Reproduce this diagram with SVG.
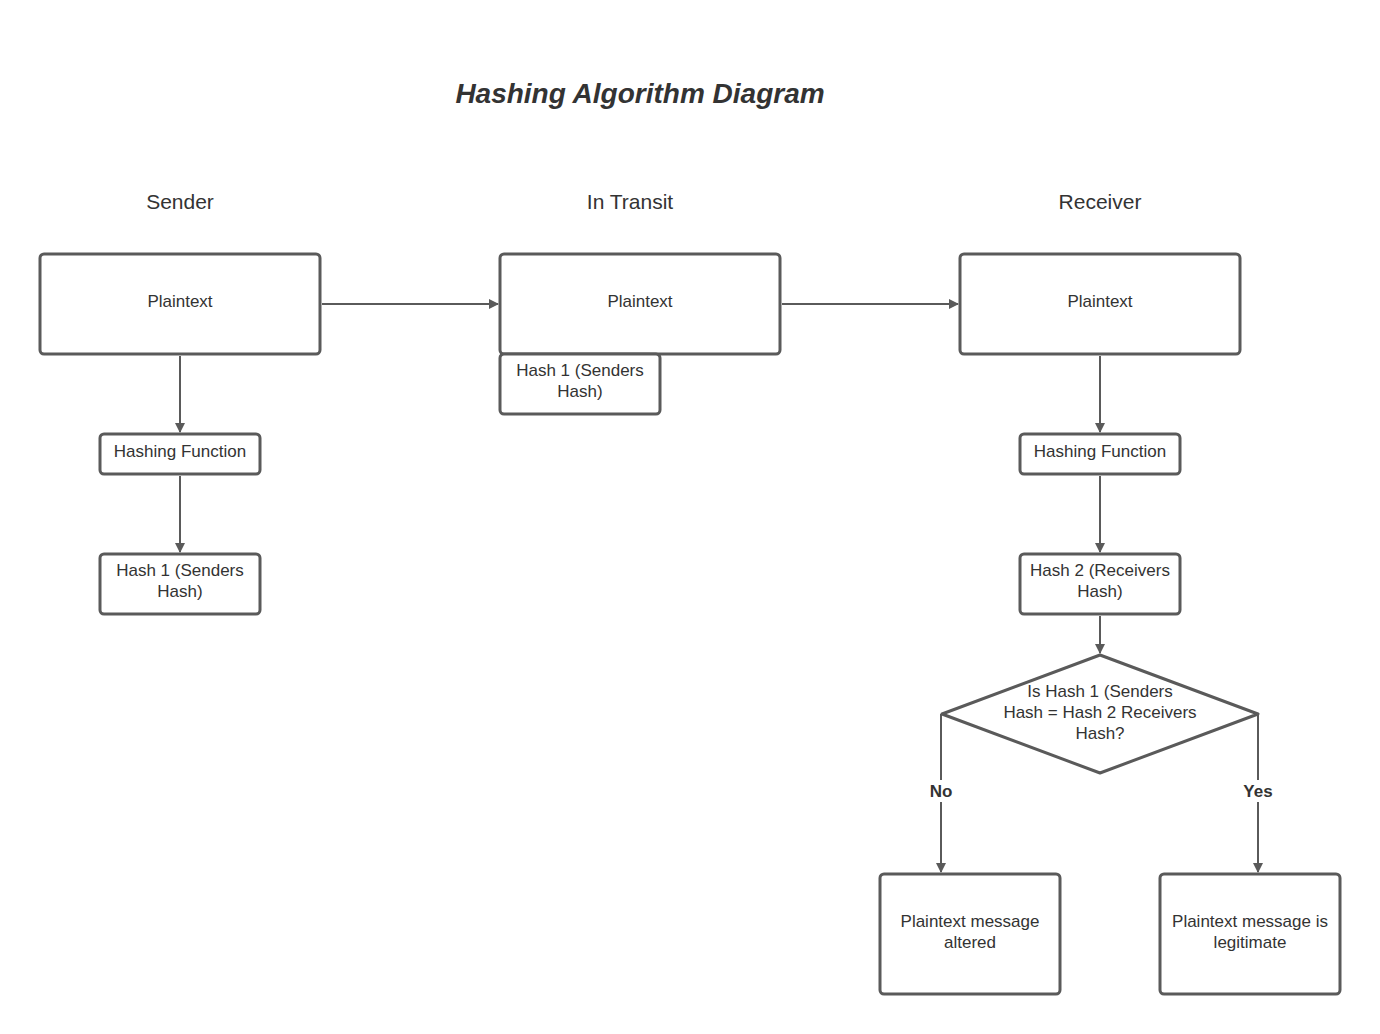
<svg xmlns="http://www.w3.org/2000/svg" width="1380" height="1034" viewBox="0 0 1380 1034">
<defs>
<style>
.n{fill:#fff;stroke:#5a5a5a;stroke-width:3}
.t{font-family:"Liberation Sans",Arial,sans-serif;font-size:17px;fill:#333;text-anchor:middle}
.h{font-family:"Liberation Sans",Arial,sans-serif;font-size:21px;fill:#333;text-anchor:middle}
.c{stroke:#5a5a5a;stroke-width:2;fill:none;marker-end:url(#a)}
.l{font-family:"Liberation Sans",Arial,sans-serif;font-size:17px;font-weight:bold;fill:#333;text-anchor:middle}
</style>
<marker id="a" markerWidth="10" markerHeight="10" refX="9" refY="5" orient="auto" markerUnits="userSpaceOnUse" viewBox="0 0 10 10"><path d="M0,0L10,5L0,10z" fill="#5a5a5a"/></marker>
</defs>
<rect width="1380" height="1034" fill="#fff"/>
<text x="640" y="103" font-family="Liberation Sans,Arial,sans-serif" font-size="28" font-weight="bold" font-style="italic" fill="#333" text-anchor="middle">Hashing Algorithm Diagram</text>
<text class="h" x="180" y="209">Sender</text>
<text class="h" x="630" y="209">In Transit</text>
<text class="h" x="1100" y="209">Receiver</text>
<g id="connectors">
<path class="c" d="M322,304H498"/>
<path class="c" d="M782,304H958"/>
<path class="c" d="M180,356V432"/>
<path class="c" d="M180,476V552"/>
<path class="c" d="M1100,356V432"/>
<path class="c" d="M1100,476V552"/>
<path class="c" d="M1100,616V653"/>
<path class="c" d="M941,714V872"/>
<path class="c" d="M1258,714V872"/>
<rect x="924" y="780" width="34" height="22" fill="#fff"/>
<text class="l" x="941" y="797">No</text>
<rect x="1238" y="780" width="40" height="22" fill="#fff"/>
<text class="l" x="1258" y="797">Yes</text>
</g>
<g id="s1"><rect class="n" x="40" y="254" width="280" height="100" rx="4"/><text class="t" x="180" y="307">Plaintext</text></g>
<g id="s2"><rect class="n" x="100" y="434" width="160" height="40" rx="4"/><text class="t" x="180" y="457">Hashing Function</text></g>
<g id="s3"><rect class="n" x="100" y="554" width="160" height="60" rx="4"/><text class="t" x="180" y="576">Hash 1 (Senders</text><text class="t" x="180" y="597">Hash)</text></g>
<g id="t1"><rect class="n" x="500" y="254" width="280" height="100" rx="4"/><text class="t" x="640" y="307">Plaintext</text></g>
<g id="t2"><rect class="n" x="500" y="354" width="160" height="60" rx="4"/><text class="t" x="580" y="376">Hash 1 (Senders</text><text class="t" x="580" y="397">Hash)</text></g>
<g id="r1"><rect class="n" x="960" y="254" width="280" height="100" rx="4"/><text class="t" x="1100" y="307">Plaintext</text></g>
<g id="r2"><rect class="n" x="1020" y="434" width="160" height="40" rx="4"/><text class="t" x="1100" y="457">Hashing Function</text></g>
<g id="r3"><rect class="n" x="1020" y="554" width="160" height="60" rx="4"/><text class="t" x="1100" y="576">Hash 2 (Receivers</text><text class="t" x="1100" y="597">Hash)</text></g>
<g id="d"><path class="n" stroke-linejoin="round" d="M1100,655L1258,714L1100,773L942,714Z"/><text class="t" x="1100" y="697">Is Hash 1 (Senders</text><text class="t" x="1100" y="718">Hash = Hash 2 Receivers</text><text class="t" x="1100" y="739">Hash?</text></g>
<g id="o1"><rect class="n" x="880" y="874" width="180" height="120" rx="4"/><text class="t" x="970" y="927">Plaintext message</text><text class="t" x="970" y="948">altered</text></g>
<g id="o2"><rect class="n" x="1160" y="874" width="180" height="120" rx="4"/><text class="t" x="1250" y="927">Plaintext message is</text><text class="t" x="1250" y="948">legitimate</text></g>
</svg>
